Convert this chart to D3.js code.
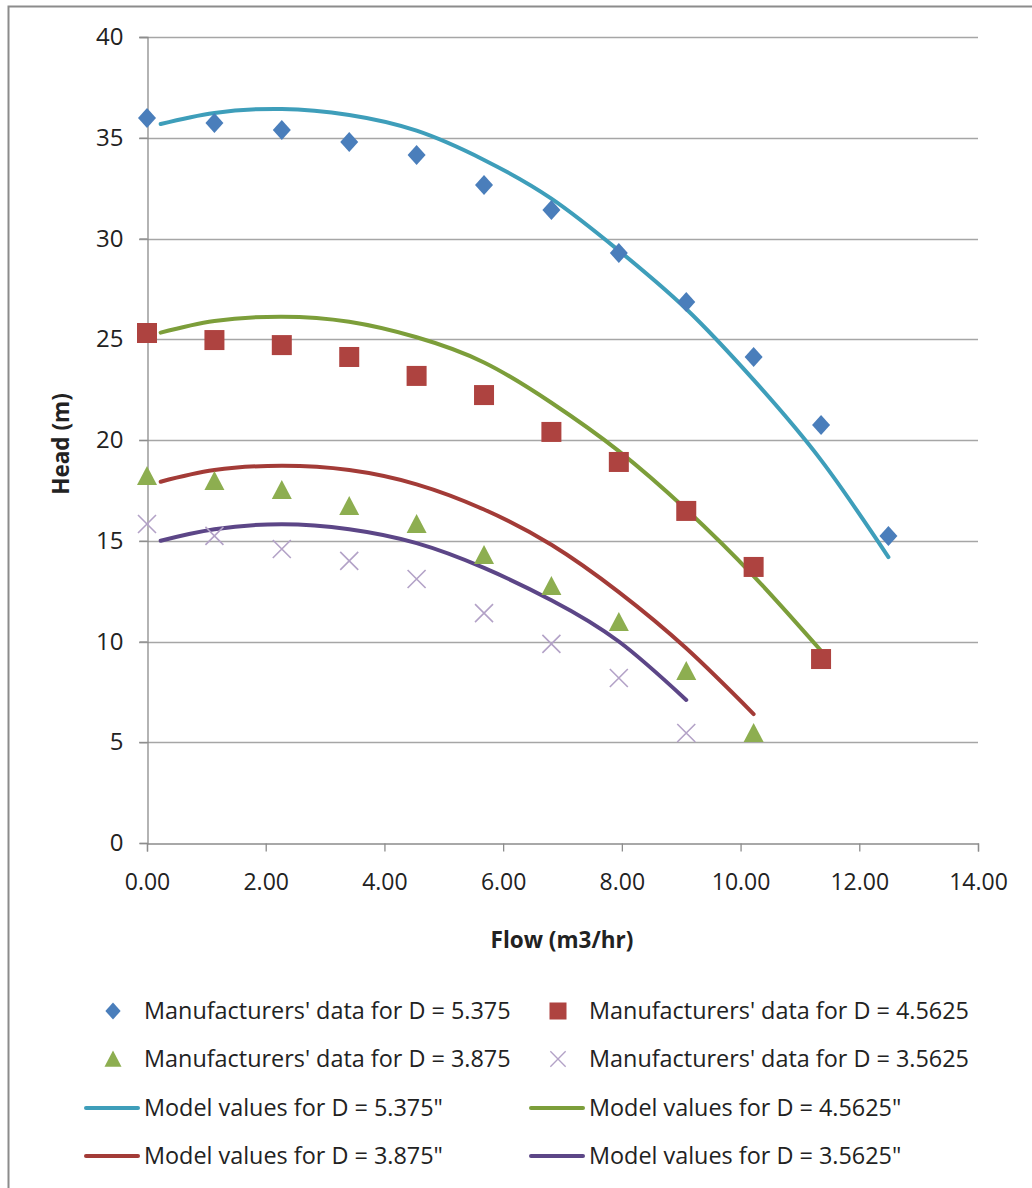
<!DOCTYPE html>
<html>
<head>
<meta charset="utf-8">
<script src="https://cdn.jsdelivr.net/npm/d3@7"></script>
<style>
  html, body { margin: 0; padding: 0; background: #fff; }
  svg { display: block; }
  text { font-family: "Open Sans", "Noto Sans", sans-serif; fill: #222; }
</style>
</head>
<body>
<svg id="chart" width="1032" height="1188"></svg>
<script>
// Flow points (m3/hr) of the manufacturer's curves
const flowData = [0, 1.136, 2.271, 3.407, 4.542, 5.678, 6.813, 7.949, 9.085, 10.220, 11.356, 12.491];

// Manufacturers' head readings (m) for each impeller diameter
const headD5375  = [35.98, 35.73, 35.38, 34.79, 34.14, 32.65, 31.41, 29.28, 26.85, 24.12, 20.74, 15.24];
const headD45625 = [25.31, 24.96, 24.71, 24.12, 23.18, 22.23, 20.40, 18.91, 16.48, 13.70, 9.13];
const headD3875  = [18.21, 17.97, 17.52, 16.72, 15.83, 14.29, 12.75, 10.97, 8.54, 5.46];
const headD35625 = [15.83, 15.24, 14.59, 14.00, 13.10, 11.41, 9.88, 8.19, 5.46];

// Model flow points and predicted heads (m)
const flowModel = [0.23, 1.136, 2.271, 3.407, 4.542, 5.678, 6.813, 7.949, 9.085, 10.220, 11.356, 12.491];
const modelD5375  = [35.68, 36.23, 36.43, 36.13, 35.35, 33.90, 31.98, 29.40, 26.50, 22.98, 19.00, 14.19];
const modelD45625 = [25.33, 25.91, 26.12, 25.87, 25.10, 23.85, 21.85, 19.45, 16.55, 13.25, 9.54];
const modelD3875  = [17.93, 18.51, 18.72, 18.51, 17.80, 16.55, 14.80, 12.45, 9.66, 6.40];
const modelD35625 = [15.00, 15.57, 15.82, 15.57, 14.88, 13.65, 12.05, 10.00, 7.10];

const xTicks = [0, 2, 4, 6, 8, 10, 12, 14];
const yTicks = [0, 5, 10, 15, 20, 25, 30, 35, 40];

const dataSeries = [
  { name: "Manufacturers' data for D = 5.375",  heads: headD5375,  shape: "diamond",  color: "#4A7EBB" },
  { name: "Manufacturers' data for D = 4.5625", heads: headD45625, shape: "square",   color: "#AE4340" },
  { name: "Manufacturers' data for D = 3.875",  heads: headD3875,  shape: "triangle", color: "#8DAE50" },
  { name: "Manufacturers' data for D = 3.5625", heads: headD35625, shape: "cross",    color: "#B3A2C7" }
];
const modelSeries = [
  { name: "Model values for D = 5.375\"",  heads: modelD5375,  color: "#3E9EBA" },
  { name: "Model values for D = 4.5625\"", heads: modelD45625, color: "#7C9E3A" },
  { name: "Model values for D = 3.875\"",  heads: modelD3875,  color: "#A33B37" },
  { name: "Model values for D = 3.5625\"", heads: modelD35625, color: "#5C4687" }
];

const svg = d3.select("#chart");

// outer chart frame
svg.append("rect")
  .attr("x", 8.5).attr("y", 6.5).attr("width", 1040).attr("height", 1200)
  .attr("fill", "none").attr("stroke", "#8c8c8c").attr("stroke-width", 2);

const x = d3.scaleLinear().domain([0, 14]).range([147, 978]);
const y = d3.scaleLinear().domain([0, 40]).range([843, 37]);

// horizontal gridlines
svg.append("g")
  .selectAll("line")
  .data(yTicks.filter(d => d > 0))
  .join("line")
  .attr("x1", x(0) - 8).attr("x2", x(14))
  .attr("y1", d => Math.round(y(d)) + 0.5).attr("y2", d => Math.round(y(d)) + 0.5)
  .attr("stroke", "#a6a6a6").attr("stroke-width", 1.3);

// y axis
const yAxis = svg.append("g")
  .attr("transform", `translate(${x(0) + 0.5},0)`)
  .call(d3.axisLeft(y).tickValues(yTicks).tickSize(8).tickPadding(16).tickFormat(d3.format("d")));
yAxis.select(".domain").attr("stroke", "#8c8c8c").attr("stroke-width", 1.3);
yAxis.selectAll(".tick line").attr("stroke", "#8c8c8c").attr("stroke-width", 1.3);
yAxis.selectAll(".tick text").attr("font-size", 24).attr("fill", "#222");

// x axis
const xAxis = svg.append("g")
  .attr("transform", `translate(0,${y(0) + 0.5})`)
  .call(d3.axisBottom(x).tickValues(xTicks).tickSize(8).tickPadding(22).tickFormat(d3.format(".2f")));
xAxis.select(".domain").attr("stroke", "#8c8c8c").attr("stroke-width", 1.3);
xAxis.selectAll(".tick line").attr("stroke", "#8c8c8c").attr("stroke-width", 1.3);
xAxis.selectAll(".tick text").attr("font-size", 23).attr("fill", "#222");

// axis titles
svg.append("text")
  .attr("transform", `translate(69,444) rotate(-90)`)
  .attr("text-anchor", "middle")
  .attr("font-size", 22.5).attr("font-weight", "bold")
  .text("Head (m)");
svg.append("text")
  .attr("x", 562).attr("y", 948)
  .attr("text-anchor", "middle")
  .attr("font-size", 22.5).attr("font-weight", "bold")
  .text("Flow (m3/hr)");

// smoothed model curves
const line = d3.line()
  .x(d => x(d[0])).y(d => y(d[1]))
  .curve(d3.curveNatural);

const plot = svg.append("g");
plot.selectAll("path.model")
  .data(modelSeries)
  .join("path")
  .attr("class", "model")
  .attr("d", s => line(s.heads.map((h, i) => [flowModel[i], h])))
  .attr("fill", "none")
  .attr("stroke", s => s.color)
  .attr("stroke-width", 4)
  .attr("stroke-linecap", "round");

// marker shapes
function drawMarker(g, shape, color) {
  if (shape === "diamond") {
    g.append("path").attr("d", "M0,-10 L9,0 L0,10 L-9,0 Z").attr("fill", color);
  } else if (shape === "square") {
    g.append("rect").attr("x", -10).attr("y", -10).attr("width", 20).attr("height", 20).attr("fill", color);
  } else if (shape === "triangle") {
    g.append("path").attr("d", "M0,-10 L10,9 L-10,9 Z").attr("fill", color);
  } else {
    g.append("path").attr("d", "M-9,-9 L9,9 M-9,9 L9,-9")
      .attr("stroke", color).attr("stroke-width", 1.6).attr("fill", "none");
  }
}

dataSeries.forEach(s => {
  plot.append("g")
    .selectAll("g")
    .data(s.heads.map((h, i) => [flowData[i], h]))
    .join("g")
    .attr("transform", d => `translate(${x(d[0])},${y(d[1])})`)
    .each(function () { drawMarker(d3.select(this), s.shape, s.color); });
});

// legend, two columns
const legend = svg.append("g");
const colX = [113, 558];
const rowY = [1011, 1059, 1108, 1156];
dataSeries.forEach((s, i) => {
  const cx = colX[i % 2], cy = rowY[Math.floor(i / 2)];
  const g = legend.append("g").attr("transform", `translate(${cx},${cy})`);
  drawMarker(g.append("g").attr("transform", "scale(0.85)"), s.shape, s.color);
  g.append("text").attr("x", 31).attr("y", 0).attr("dy", "0.35em")
    .attr("font-size", 23.4).text(s.name);
});
modelSeries.forEach((s, i) => {
  const cx = colX[i % 2], cy = rowY[2 + Math.floor(i / 2)];
  const g = legend.append("g").attr("transform", `translate(${cx},${cy})`);
  g.append("line").attr("x1", -27).attr("x2", 25).attr("y1", 0).attr("y2", 0)
    .attr("stroke", s.color).attr("stroke-width", 4).attr("stroke-linecap", "round");
  g.append("text").attr("x", 31).attr("y", 0).attr("dy", "0.35em")
    .attr("font-size", 23.4).text(s.name);
});
</script>
</body>
</html>
